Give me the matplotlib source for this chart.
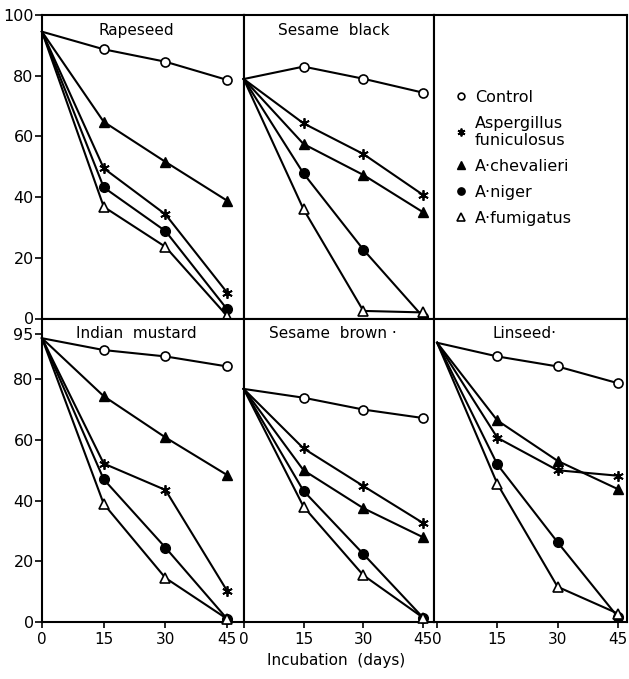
import matplotlib
matplotlib.use('Agg')
import matplotlib.pyplot as plt

# ---- data ----
days = [0, 15, 30, 45]
series_labels = ["Control", "Aspergillus\nfuniculosus", "A·chevalieri", "A·niger", "A·fumigatus"]

# values in series order: control, funiculosus, chevalieri, niger, fumigatus
rapeseed = [
    [94.5, 88.7, 84.6, 78.6],
    [94.5, 49.5, 34.3, 8.5],
    [94.5, 64.8, 51.6, 38.8],
    [94.5, 43.2, 28.8, 3.0],
    [94.5, 36.8, 23.6, 0.8],
]
sesame_black = [
    [78.9, 83.0, 79.0, 74.4],
    [78.9, 64.3, 54.2, 40.7],
    [78.9, 57.5, 47.3, 35.0],
    [78.9, 47.8, 22.7, 0.5],
    [78.9, 36.0, 2.5, 2.0],
]
indian_mustard = [
    [93.5, 89.6, 87.5, 84.2],
    [93.5, 52.2, 43.5, 10.2],
    [93.5, 74.4, 60.8, 48.4],
    [93.5, 47.0, 24.5, 1.0],
    [93.5, 38.9, 14.5, 1.0],
]
sesame_brown = [
    [76.8, 73.9, 70.0, 67.2],
    [76.8, 57.2, 44.8, 32.6],
    [76.8, 50.0, 37.5, 27.9],
    [76.8, 43.2, 22.4, 1.4],
    [76.8, 38.0, 15.4, 1.4],
]
linseed = [
    [92.0, 87.5, 84.2, 78.7],
    [92.0, 60.7, 50.0, 48.2],
    [92.0, 66.4, 53.1, 43.8],
    [92.0, 51.9, 26.3, 1.7],
    [92.0, 45.5, 11.6, 2.8],
]

panel_titles = ["Rapeseed", "Sesame  black", None, "Indian  mustard", "Sesame  brown ·", "Linseed·"]
panel_data = [rapeseed, sesame_black, None, indian_mustard, sesame_brown, linseed]
xticks = [0, 15, 30, 45]
yticks_top = [0, 20, 40, 60, 80, 100]
yticks_bottom = [0, 20, 40, 60, 80, 95]

# ---- style ----
plt.rcParams['font.family'] = ['DejaVu Sans']
styles = [
    dict(marker='o', mfc='white', mec='black', ms=6.5, mew=1.2),
    dict(marker=(6, 2, 0), mfc='black', mec='black', ms=7.5, mew=1.3),
    dict(marker='^', mfc='black', mec='black', ms=7, mew=1.0),
    dict(marker='o', mfc='black', mec='black', ms=7, mew=1.0),
    dict(marker='^', mfc='white', mec='black', ms=7, mew=1.2),
]

xlims = [(0, 49.0), (0, 47.8), (-0.7, 47.3)]
fig = plt.figure(figsize=(6.29, 6.79), dpi=100)
gs = fig.add_gridspec(2, 3, left=42/629, right=627/629, top=1-15/679, bottom=1-622/679,
                      wspace=0, hspace=0, width_ratios=[201, 190, 192])

for i in range(6):
    r, c = divmod(i, 3)
    ax = fig.add_subplot(gs[r, c])
    ax.set_xlim(*xlims[c])
    ax.set_ylim(0, 100)
    for sp in ax.spines.values():
        sp.set_linewidth(1.5)
    data = panel_data[i]
    if data is not None:
        for vals, st in zip(data, styles):
            ax.plot(days, vals, color='black', lw=1.5, clip_on=False, zorder=3,
                    markevery=[1, 2, 3], **st)
        ax.text(0.47, 0.975, panel_titles[i], transform=ax.transAxes, ha='center', va='top',
                fontsize=11)
    # ticks
    if c == 0:
        ax.set_yticks(yticks_top if r == 0 else yticks_bottom)
        ax.tick_params(axis='y', direction='out', length=5, width=1.2, labelsize=11.5, pad=1)
    else:
        ax.set_yticks([])
    if r == 1:
        ax.set_xticks(xticks)
        ax.tick_params(axis='x', direction='out', length=4, width=1.2, labelsize=11, pad=3)
    else:
        ax.set_xticks([])
    if i == 2:
        leg_h = []
        for st in styles:
            h, = ax.plot([], [], linestyle='none', color='black',
                         **{k: v * (0.75 if k == 'ms' else 1) for k, v in st.items()})
            leg_h.append(h)
        ax.legend(leg_h, series_labels, loc='upper left', bbox_to_anchor=(0.07, 0.775),
                  frameon=False, fontsize=11.5, handlelength=0.8, handletextpad=0.5,
                  labelspacing=0.68, borderaxespad=0)

fig.text(0.535, 1-660/679, "Incubation  (days)", ha='center', va='center', fontsize=11)
fig.savefig('out.png', dpi=100)
